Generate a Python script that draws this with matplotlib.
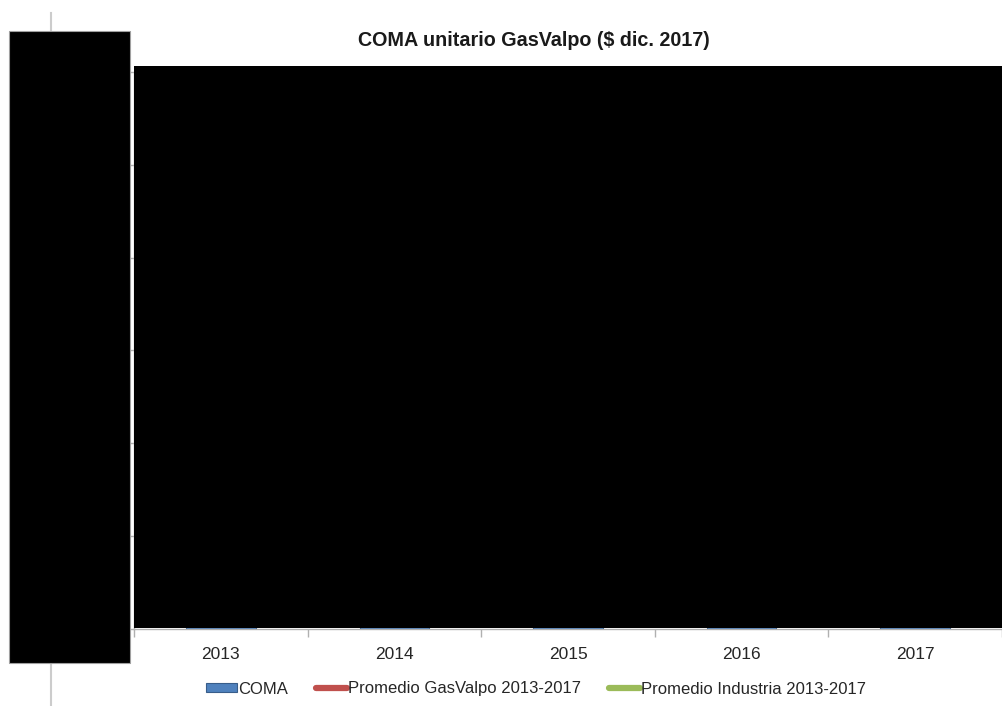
import numpy as np
import matplotlib
matplotlib.use("Agg")
import matplotlib.pyplot as plt
from matplotlib.patches import Rectangle, Patch
from matplotlib.lines import Line2D

# ------------------------------------------------------------
# Data (bars and averages are hidden behind the redaction boxes,
# values are estimates)
# ------------------------------------------------------------
years = ["2013", "2014", "2015", "2016", "2017"]
coma = [21500, 20800, 22300, 23600, 24100]
prom_gasvalpo = 22460
prom_industria = 19800
yticks = [0, 5000, 10000, 15000, 20000, 25000, 30000]

W, H = 1003, 706
plt.rcParams['font.family'] = ['Liberation Sans', 'DejaVu Sans']

fig = plt.figure(figsize=(W / 100, H / 100), dpi=100)
ax = fig.add_axes([134 / W, (H - 629) / H, 868 / W, (629 - 72) / H])

x = np.arange(len(years))
ax.bar(x, coma, width=0.40, color="#4F81BD", edgecolor="#385D8A", lw=0.8, zorder=2)
ax.plot([-0.5, 4.5], [prom_gasvalpo] * 2, color="#C0504D", lw=3, zorder=3)
ax.plot([-0.5, 4.5], [prom_industria] * 2, color="#9BBB59", lw=3, zorder=3)

ax.set_xlim(-0.5, 4.5)
ax.set_ylim(yticks[0], yticks[-1])
ax.set_yticks(yticks)
ax.set_xticks(x)
ax.set_xticklabels(years, fontsize=12.5, color="#262626")
ax.set_xticks(np.arange(-0.5, 5, 1), minor=True)
ax.tick_params(axis="x", which="major", length=0, pad=13)
ax.tick_params(axis="x", which="minor", length=6, color="#b0b0b0", width=1)
ax.tick_params(axis="y", length=4, color="#b0b0b0", width=1, labelsize=12)

for s in ["top", "right"]:
    ax.spines[s].set_visible(False)
for s in ["left", "bottom"]:
    ax.spines[s].set_color("#b0b0b0")
    ax.spines[s].set_linewidth(1)

fig.text(534 / W, 1 - 40 / H, "COMA unitario GasValpo ($ dic. 2017)",
         ha="center", va="center", fontsize=14.2, fontweight="bold", color="#1a1a1a")

# ------------------------------------------------------------
# Legend
# ------------------------------------------------------------
handles = [
    Patch(facecolor="#4F81BD", edgecolor="#385D8A", lw=0.8),
    Line2D([0], [0], color="#C0504D", lw=4.5, solid_capstyle="round"),
    Line2D([0], [0], color="#9BBB59", lw=4.5, solid_capstyle="round"),
]
labels = ["COMA", "Promedio GasValpo 2013-2017", "Promedio Industria 2013-2017"]
fig.legend(handles, labels, loc="center", bbox_to_anchor=(536 / W, 1 - 689 / H),
           ncol=3, frameon=False, fontsize=12, handlelength=1.85, handleheight=0.5,
           handletextpad=0.05, columnspacing=1.7, labelcolor="#262626")

# ------------------------------------------------------------
# Redaction boxes and stray line
# ------------------------------------------------------------
fig.add_artist(Line2D([51 / W, 51 / W], [0, 1 - 13 / H], color="#cccccc", lw=1.5,
                      transform=fig.transFigure, zorder=5))
fig.add_artist(Rectangle((9 / W, (H - 663) / H), 121 / W, 632 / H, facecolor="black",
                         edgecolor="#a0a0a0", lw=0.8, transform=fig.transFigure, zorder=10))
fig.add_artist(Rectangle((134 / W, (H - 627.5) / H), 869 / W, 561.5 / H, facecolor="black",
                         edgecolor="none", transform=fig.transFigure, zorder=10))

fig.savefig("out.png", dpi=100)
